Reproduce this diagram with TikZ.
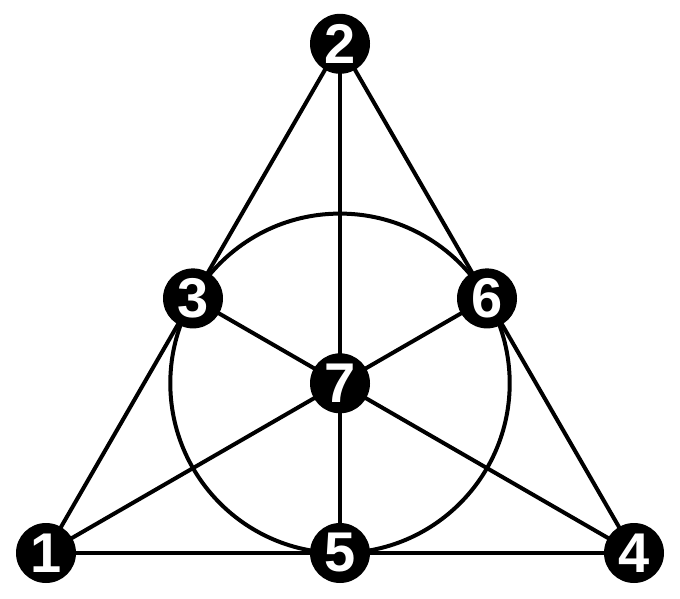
\documentclass[tikz,border=0pt]{standalone}
\usepackage{fontspec}
\setmainfont{Liberation Sans}
\usetikzlibrary{backgrounds}
\begin{document}
\begin{tikzpicture}[x=1pt,y=-1pt,
  pt/.style={circle,fill=black,inner sep=0pt,minimum size=60pt,text=white,font=\fontsize{56}{56}\selectfont\bfseries},
  ln/.style={line width=4pt,black}]
\useasboundingbox (0,0) rectangle (680,599);
\node[pt] (n1) at (46,553) {1};
\node[pt] (n2) at (340,43.8) {2};
\node[pt] (n4) at (634,553) {4};
\node[pt] (n5) at (340,553) {5};
\node[pt] (n3) at (193,298.4) {3};
\node[pt] (n6) at (487,298.4) {6};
\node[pt] (n7) at (340,383.3) {7};
\begin{pgfonlayer}{background}
\draw[ln] (n1.center) -- (n2.center);
\draw[ln] (n2.center) -- (n4.center);
\draw[ln] (n1.center) -- (n4.center);
\draw[ln] (n2.center) -- (n5.center);
\draw[ln] (n3.center) -- (n4.center);
\draw[ln] (n6.center) -- (n1.center);
\draw[ln] (n7.center) circle[radius=169.7pt];
\end{pgfonlayer}
\end{tikzpicture}
\end{document}
